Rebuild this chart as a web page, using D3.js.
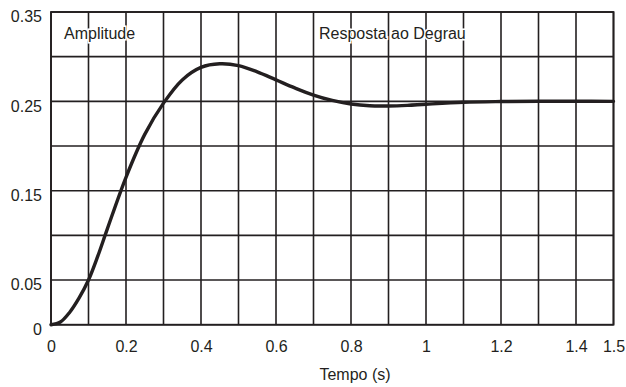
<!DOCTYPE html>
<html>
<head>
<meta charset="utf-8">
<script src="https://cdn.jsdelivr.net/npm/d3@7"></script>
<style>
body { margin: 0; background: #fff; }
text { font-family: "Liberation Sans", Arial, sans-serif; fill: #231f20; }
</style>
</head>
<body>
<script>
var w = 626;
var h = 387;

// step response
var tempo = [0, 0.025, 0.05, 0.075, 0.1, 0.125, 0.15, 0.2, 0.25, 0.3, 0.35, 0.4, 0.45, 0.5,
             0.55, 0.6, 0.65, 0.7, 0.75, 0.8, 0.85, 0.9, 0.95, 1.0, 1.1, 1.2, 1.3, 1.4, 1.5];
var amplitude = [0, 0.003, 0.014, 0.03, 0.05, 0.077, 0.107, 0.165, 0.213, 0.248, 0.274, 0.288, 0.292, 0.290,
                 0.283, 0.274, 0.265, 0.257, 0.251, 0.247, 0.245, 0.2448, 0.2455, 0.2468, 0.249, 0.2498, 0.2501, 0.2501, 0.25];

var xTicks = [0, 0.2, 0.4, 0.6, 0.8, 1, 1.2, 1.4, 1.5];
var yTicks = [0, 0.05, 0.15, 0.25, 0.35];
var xGrid = d3.range(0, 16).map(function(i) { return i / 10; });
var yGrid = d3.range(0, 8).map(function(i) { return i * 0.05; });

var plotLeft = 51, plotRight = 613.5, plotTop = 12, plotBottom = 324.7;
var ink = "#231f20";

var xScale = d3.scaleLinear().domain([0, 1.5]).range([plotLeft, plotRight]);
var yScale = d3.scaleLinear().domain([0, 0.35]).range([plotBottom, plotTop]);

var svg = d3.select("body").append("svg")
            .attr("width", w)
            .attr("height", h);

// grid
svg.append("g").selectAll("line")
   .data(xGrid)
   .enter().append("line")
   .attr("x1", function(d) { return xScale(d); })
   .attr("x2", function(d) { return xScale(d); })
   .attr("y1", plotTop).attr("y2", plotBottom)
   .attr("stroke", ink).attr("stroke-width", 1.6);

svg.append("g").selectAll("line")
   .data(yGrid)
   .enter().append("line")
   .attr("y1", function(d) { return yScale(d); })
   .attr("y2", function(d) { return yScale(d); })
   .attr("x1", plotLeft).attr("x2", plotRight)
   .attr("stroke", ink).attr("stroke-width", 1.6);

// frame
svg.append("rect")
   .attr("x", plotLeft).attr("y", plotTop)
   .attr("width", plotRight - plotLeft).attr("height", plotBottom - plotTop)
   .attr("fill", "none").attr("stroke", ink).attr("stroke-width", 1.8);

// labels inside plot
svg.append("text").attr("x", 64).attr("y", 39)
   .attr("font-size", 16)
   .attr("stroke", "#fff").attr("stroke-width", 3).attr("paint-order", "stroke")
   .text("Amplitude");
svg.append("text").attr("x", 319).attr("y", 39)
   .attr("font-size", 16)
   .attr("stroke", "#fff").attr("stroke-width", 3).attr("paint-order", "stroke")
   .text("Resposta ao Degrau");

// curve
var line = d3.line()
   .x(function(d, i) { return xScale(tempo[i]); })
   .y(function(d) { return yScale(d); })
   .curve(d3.curveCatmullRom);

svg.append("path")
   .datum(amplitude)
   .attr("d", line)
   .attr("fill", "none")
   .attr("stroke", ink)
   .attr("stroke-width", 3.4)
   .attr("stroke-linecap", "round");

// axes (labels only)
var xAxis = d3.axisBottom(xScale)
   .tickValues(xTicks)
   .tickSize(0)
   .tickPadding(0)
   .tickFormat(function(d) { return d3.format("")(d); });

var yAxis = d3.axisLeft(yScale)
   .tickValues(yTicks)
   .tickSize(0)
   .tickPadding(0)
   .tickFormat(function(d) { return d === 0 ? "0" : d3.format(".2f")(d); });

var gx = svg.append("g")
   .attr("transform", "translate(0," + plotBottom + ")")
   .call(xAxis);
gx.select(".domain").remove();
gx.selectAll("text")
   .attr("font-size", 16)
   .attr("font-family", "Liberation Sans, Arial, sans-serif")
   .attr("fill", ink)
   .attr("dy", null)
   .attr("y", 27);

var gy = svg.append("g")
   .attr("transform", "translate(" + 42 + ",0)")
   .call(yAxis);
gy.select(".domain").remove();
gy.selectAll("text")
   .attr("font-size", 16)
   .attr("font-family", "Liberation Sans, Arial, sans-serif")
   .attr("fill", ink)
   .attr("dy", "0.62em");

svg.append("text")
   .attr("x", 355).attr("y", 380)
   .attr("text-anchor", "middle")
   .attr("font-size", 16)
   .text("Tempo (s)");
</script>
</body>
</html>
